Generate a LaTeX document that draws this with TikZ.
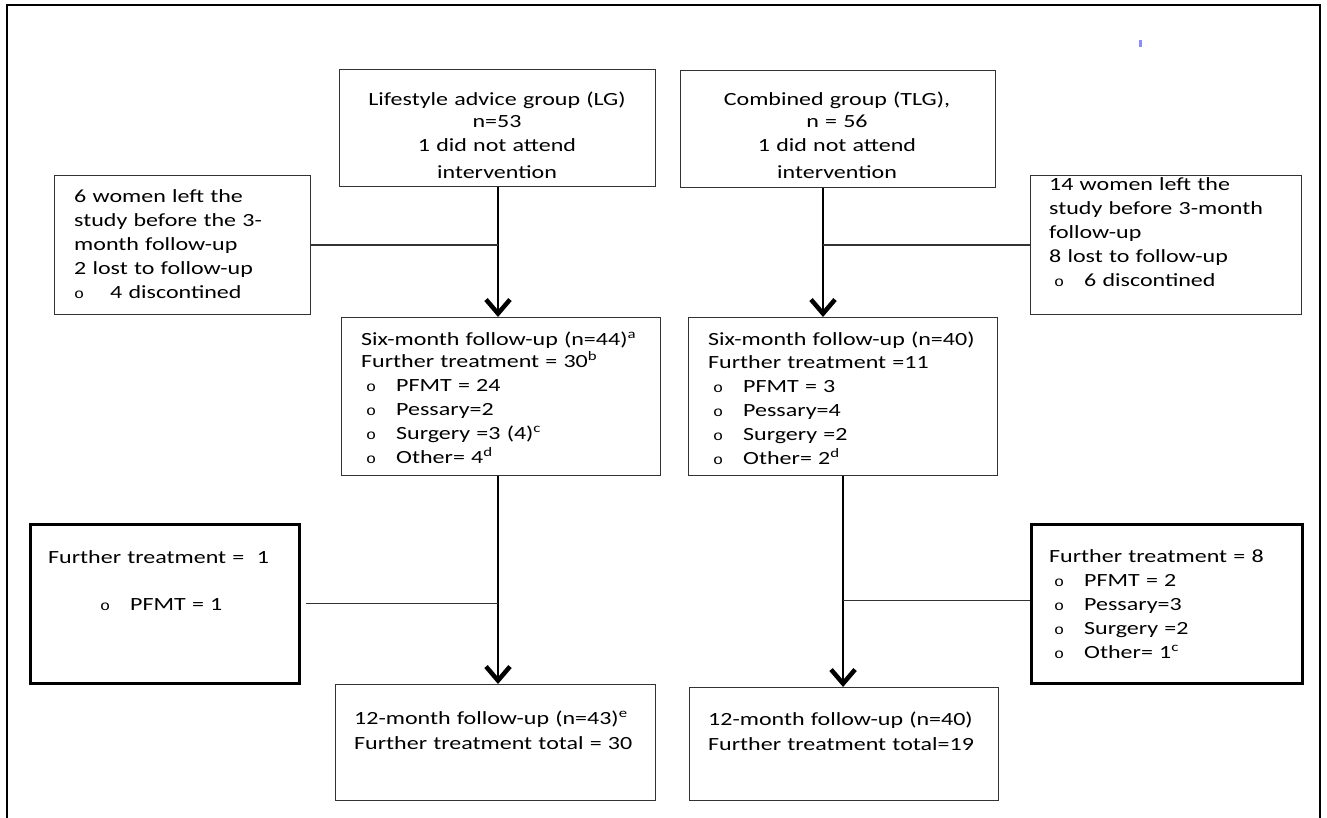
\documentclass[tikz,border=0pt]{standalone}
\usepackage{fontspec}
\setmainfont{Carlito}[FakeStretch=1.29]
\newfontfamily\circfont{Liberation Mono}[FakeStretch=1.2]
\usetikzlibrary{arrows.meta}
\newcommand{\ring}{{\circfont\fontsize{14}{14}\selectfont o}}
\newcommand{\bul}[1]{\makebox[35pt][l]{\hspace{5pt}\ring}#1}

\begin{document}
\begin{tikzpicture}[x=1pt,y=-1pt,font=\fontsize{18.6}{24}\selectfont]
	% `box' is used for the plain boxes, `heavy' for the two boxes with a thick border.
	% `flow' is used for the arrows down each group, `side' for the lines from the side boxes.
	\tikzstyle{box} = [draw=black!80,line width=1.1pt,inner sep=0pt,anchor=north west]
	\tikzstyle{heavy} = [box,draw=black,line width=2.6pt]
	\tikzstyle{txt} = [inner sep=0pt,anchor=base west,text width=330pt,align=left]
	\tikzstyle{ctxt} = [inner sep=0pt,anchor=base,text width=330pt,align=center]
	\tikzstyle{flow} = [line width=1.6pt,-{Straight Barb[length=14pt,width=24pt,line width=4.5pt 0]}]
	\tikzstyle{side} = [line width=1.1pt,black!80]
	\useasboundingbox (0,0) rectangle (1327,818);
	% Outer frame, open at the bottom.
	\draw[line width=1.5pt] (7,818) |- (1320,5) -- (1320,818);
	\fill[blue!45!white] (1139,40) rectangle (1142,47);
	% Columns of the two groups.
	\coordinate (lgcol) at (498,0);
	\coordinate (tlgcol) at (823,0);
	%
	% First row.
	\node[box,minimum width=316,minimum height=117] (lg) at (339,69) {};
	\node[ctxt] (lgtxt) at (497,106) {Lifestyle advice group (LG)\\[-2.5pt]n=53\\[0.5pt]1 did not attend\\[2.5pt]intervention};
	\node[box,minimum width=315,minimum height=117] (tlg) at (680,70) {};
	\node[ctxt] (tlgtxt) at (837,106) {Combined group (TLG),\\[-2.5pt]n = 56\\[0.5pt]1 did not attend\\[2.5pt]intervention};
	% Women who left before 3 months.
	\node[box,minimum width=256,minimum height=139] (lwd) at (54,175) {};
	\node[txt] (lwdtxt) at (74,203) {6 women left the\\study before the 3-\\month follow-up\\2 lost to follow-up\\\makebox[36pt][l]{\ring}4 discontined};
	\node[box,minimum width=271,minimum height=139] (twd) at (1030,175) {};
	\node[txt] (twdtxt) at (1049,191) {14 women left the\\study before 3-month\\follow-up\\8 lost to follow-up\\\bul{6 discontined}};
	% Six-month follow-up.
	\node[box,minimum width=319,minimum height=158] (lg6) at (341,317) {};
	\node[txt] (lg6txt) at (361,345) {Six-month follow-up (n=44)\textsuperscript{a}\\[-2pt]Further treatment = 30\textsuperscript{b}\\\bul{PFMT = 24}\\\bul{Pessary=2}\\\bul{Surgery =3 (4)\textsuperscript{c}}\\\bul{Other= 4\textsuperscript{d}}};
	\node[box,minimum width=309,minimum height=158] (tlg6) at (688,317) {};
	\node[txt] (tlg6txt) at (708,345) {Six-month follow-up (n=40)\\[-1pt]Further treatment =11\\\bul{PFMT = 3}\\\bul{Pessary=4}\\\bul{Surgery =2}\\\bul{Other= 2\textsuperscript{d}}};
	% Further treatment after six months.
	\node[heavy,minimum width=269,minimum height=159] (lft) at (29,523) {};
	\node[txt] (lfttxt) at (48,563) {Further treatment =\ \ 1\\[23pt]\hspace*{47pt}\bul{PFMT = 1}};
	\node[heavy,minimum width=271,minimum height=159] (rft) at (1030,523) {};
	\node[txt] (rfttxt) at (1049,562) {Further treatment = 8\\\bul{PFMT = 2}\\\bul{Pessary=3}\\\bul{Surgery =2}\\\bul{Other= 1\textsuperscript{c}}};
	% Twelve-month follow-up.
	\node[box,minimum width=320,minimum height=116] (lg12) at (335,684) {};
	\node[txt] (lg12txt) at (354,724) {12-month follow-up (n=43)\textsuperscript{e}\\[1pt]Further treatment total = 30};
	\node[box,minimum width=309,minimum height=113] (tlg12) at (689,687) {};
	\node[txt] (tlg12txt) at (708,725) {12-month follow-up (n=40)\\[1pt]Further treatment total=19};
	%
	% Draw arrows and side lines.
	\draw[flow] (lg.south -| lgcol) -- (lg6.north -| lgcol);
	\draw[flow] (tlg.south -| tlgcol) -- (tlg6.north -| tlgcol);
	\draw[side] (lwd.east) -- (lwd.east -| lgcol);
	\draw[side] (twd.west) -- (twd.west -| tlgcol);
	\draw[flow] (lg6.south -| lgcol) -- (lg12.north -| lgcol);
	\draw[flow] (tlg6.south) -- (tlg6.south |- tlg12.north);
	\draw[side] ([xshift=5pt]lft.east) -- (lft.east -| lgcol);
	\draw[side] ([yshift=3.5pt]rft.west) -- ([yshift=3.5pt]rft.west -| tlg6.south);
\end{tikzpicture}
\end{document}
